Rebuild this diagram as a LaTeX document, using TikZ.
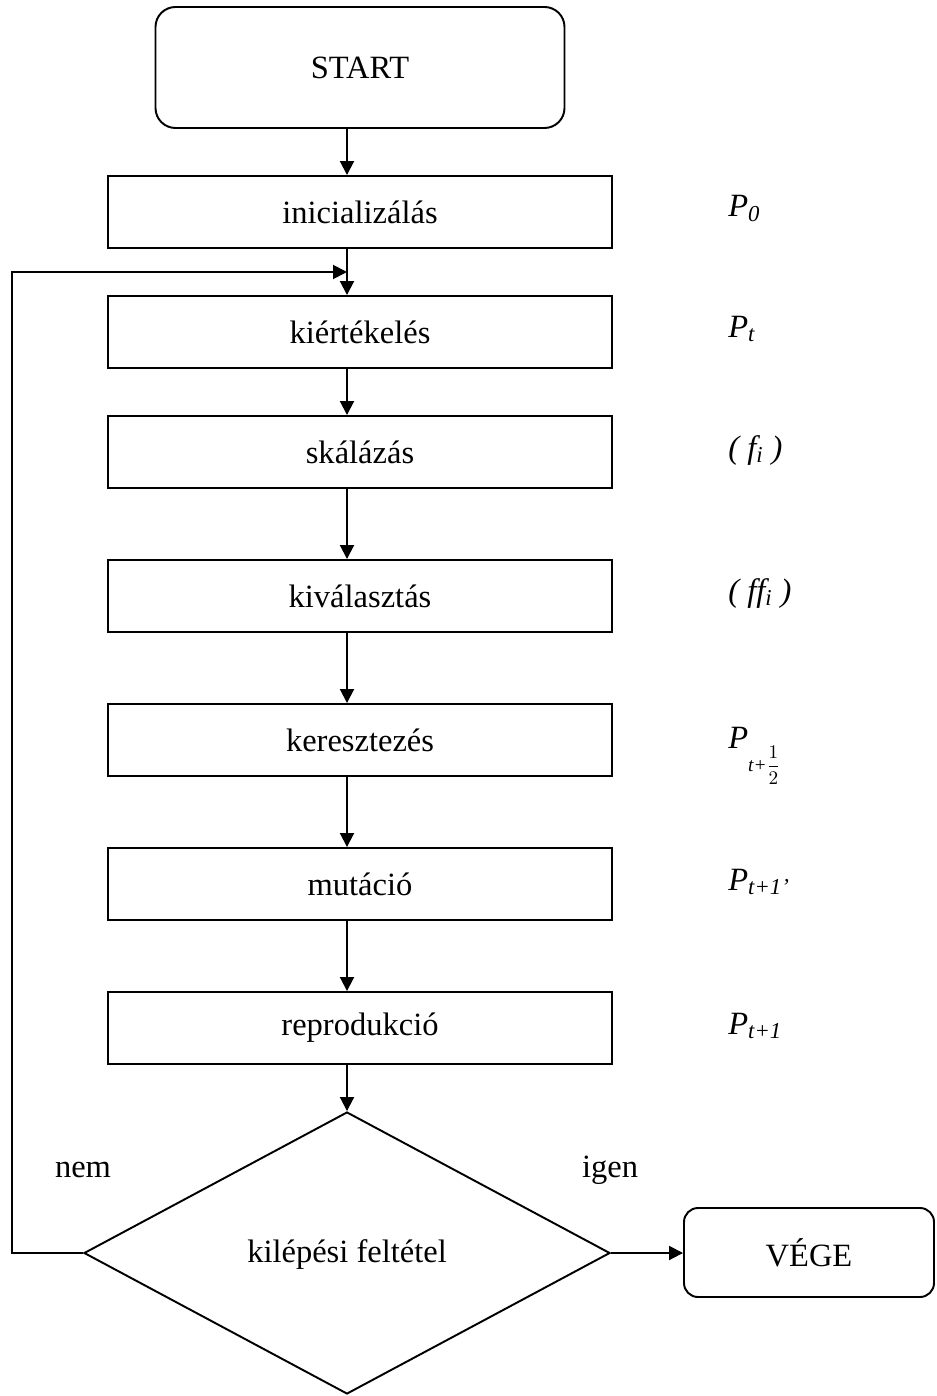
\documentclass[tikz,border=0pt]{standalone}
\usepackage{fontspec}
\setmainfont{Liberation Serif}
\usepackage{tikz}
\usetikzlibrary{shapes.geometric,arrows.meta}
\newcommand{\chartfont}{\fontsize{18.5}{22}\selectfont}

\begin{document}
\begin{tikzpicture}[
  term/.style={draw,line width=1.1pt,rounded corners=0.4cm,align=center,font=\chartfont},
  proc/.style={draw,line width=1.1pt,minimum width=10.08cm,minimum height=1.44cm,font=\chartfont},
  cond/.style={diamond,draw,line width=1.1pt,aspect=1.87,inner sep=0pt,minimum width=10.52cm,minimum height=5.64cm,font=\chartfont,text height=1.26em,text depth=0.2em},
  lbl/.style={anchor=base west,inner sep=0pt,font=\chartfont\itshape},
  ans/.style={anchor=base,inner sep=0pt,font=\chartfont},
  arr/.style={-{Triangle[length=0.28cm,width=0.28cm]},line width=1.1pt}
]
  \useasboundingbox (0,0) rectangle (18.72,-27.92);

  % Start and the steps of the cycle
  \node[term,minimum width=8.18cm,minimum height=2.42cm] (start) at (7.2,-1.35) {START};
  \node[proc] (init)   at (7.2,-4.24)  {inicializálás};
  \node[proc] (eval)   at (7.2,-6.64)  {kiértékelés};
  \node[proc] (scale)  at (7.2,-9.04)  {skálázás};
  \node[proc] (select) at (7.2,-11.92) {kiválasztás};
  \node[proc] (cross)  at (7.2,-14.80) {keresztezés};
  \node[proc] (mutate) at (7.2,-17.68) {mutáció};
  \node[proc] (repro)  at (7.2,-20.56) {reprodukció};

  % Exit test and end
  \node[cond] (exit) at (6.94,-25.06) {kilépési feltétel};
  \node[term,rounded corners=0.28cm,minimum width=5.0cm,minimum height=1.78cm] (stop) at (16.18,-25.05) {VÉGE};
  \node[ans] (no)  at (1.66,-23.54) {nem};
  \node[ans] (yes) at (12.2,-23.54) {igen};

  % Population labels
  \node[lbl] (p0)    at (14.56,-4.34)  {P\textsubscript{0}};
  \node[lbl] (pt)    at (14.56,-6.74)  {P\textsubscript{t}};
  \node[lbl] (fi)    at (14.56,-9.16)  {( f\textsubscript{i} )};
  \node[lbl] (ffi)   at (14.56,-12.02) {( ff\textsubscript{i} )};
  \node[lbl] (phalf) at (14.56,-14.96) {P\raisebox{-0.72em}{\fontsize{11}{11}\selectfont t+$\displaystyle\frac{1}{2}$}};
  \node[lbl] (pnext) at (14.56,-17.80) {P\textsubscript{t+1’}};
  \node[lbl] (pnew)  at (14.56,-20.68) {P\textsubscript{t+1}};

  % Main flow
  \draw[arr] (start.south -| exit.north)  -- (init.north -| exit.north);
  \draw[arr] (init.south -| exit.north)   -- (eval.north -| exit.north);
  \draw[arr] (eval.south -| exit.north)   -- (scale.north -| exit.north);
  \draw[arr] (scale.south -| exit.north)  -- (select.north -| exit.north);
  \draw[arr] (select.south -| exit.north) -- (cross.north -| exit.north);
  \draw[arr] (cross.south -| exit.north)  -- (mutate.north -| exit.north);
  \draw[arr] (mutate.south -| exit.north) -- (repro.north -| exit.north);
  \draw[arr] (repro.south -| exit.north)  -- (exit.north);
  \draw[arr] (exit.east) -- (exit.east -| stop.west);

  % Back to evaluation
  \coordinate (back) at (0.24,-5.44);
  \coordinate (join) at (6.94,-5.44);
  \draw[arr] (exit.west) -| (back) -- (join);
\end{tikzpicture}
\end{document}
